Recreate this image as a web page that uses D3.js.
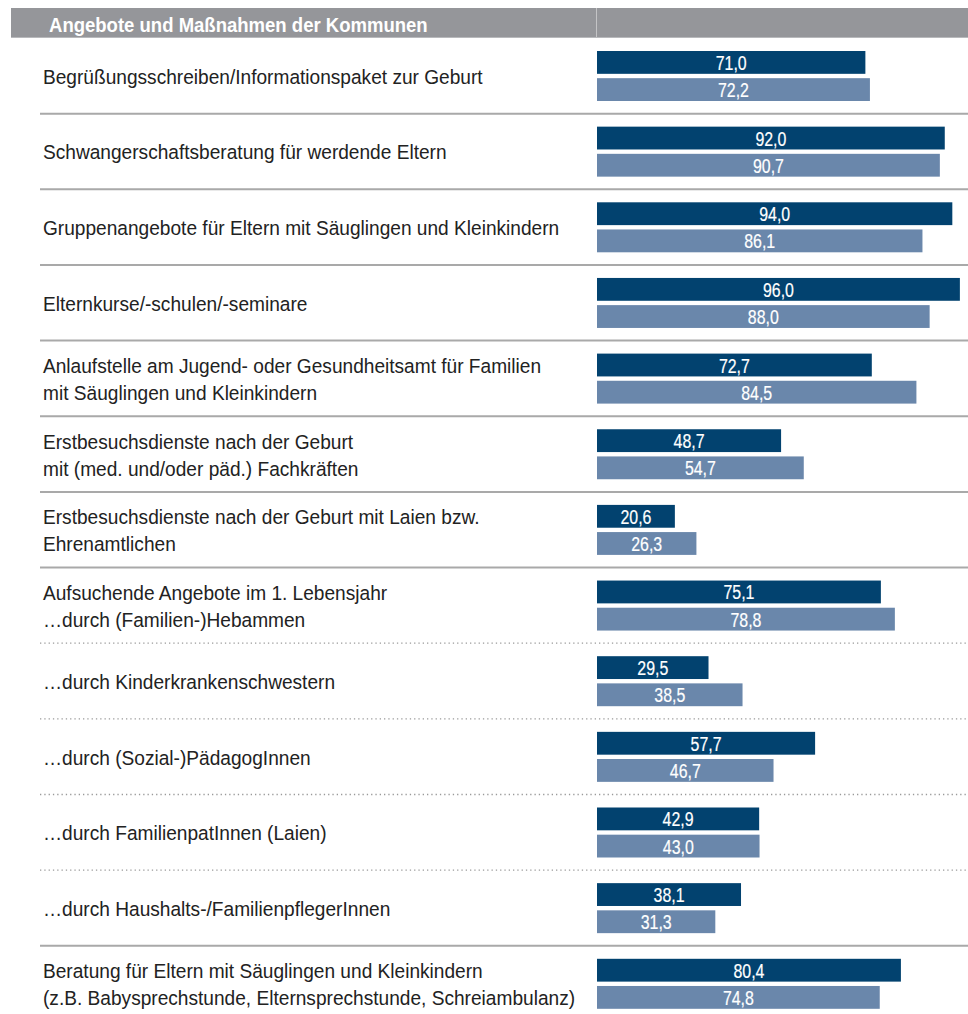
<!DOCTYPE html>
<html>
<head>
<meta charset="utf-8">
<script src="https://cdn.jsdelivr.net/npm/d3@7"></script>
<style>
  html, body { margin: 0; padding: 0; background: #fff; }
  #chart { width: 968px; height: 1014px; }
  text { font-family: "Liberation Sans", Arial, sans-serif; }
</style>
</head>
<body>
<div id="chart"></div>
<script>
// Angebote und Maßnahmen der Kommunen (Angaben in %)
const title = 'Angebote und Maßnahmen der Kommunen';

const categories = [
  'Begrüßungsschreiben/Informationspaket zur Geburt',
  'Schwangerschaftsberatung für werdende Eltern',
  'Gruppenangebote für Eltern mit Säuglingen und Kleinkindern',
  'Elternkurse/-schulen/-seminare',
  'Anlaufstelle am Jugend- oder Gesundheitsamt für Familien\nmit Säuglingen und Kleinkindern',
  'Erstbesuchsdienste nach der Geburt\nmit (med. und/oder päd.) Fachkräften',
  'Erstbesuchsdienste nach der Geburt mit Laien bzw.\nEhrenamtlichen',
  'Aufsuchende Angebote im 1. Lebensjahr\n…durch (Familien-)Hebammen',
  '…durch Kinderkrankenschwestern',
  '…durch (Sozial-)PädagogInnen',
  '…durch FamilienpatInnen (Laien)',
  '…durch Haushalts-/FamilienpflegerInnen',
  'Beratung für Eltern mit Säuglingen und Kleinkindern\n(z.B. Babysprechstunde, Elternsprechstunde, Schreiambulanz)'
];

const seriesKeys = ['Reihe 1', 'Reihe 2'];
const series1 = [71.0, 92.0, 94.0, 96.0, 72.7, 48.7, 20.6, 75.1, 29.5, 57.7, 42.9, 38.1, 80.4];
const series2 = [72.2, 90.7, 86.1, 88.0, 84.5, 54.7, 26.3, 78.8, 38.5, 46.7, 43.0, 31.3, 74.8];

const W = 968, H = 1014;
const colors = { 'Reihe 1': '#02426f', 'Reihe 2': '#6a87ab' };
const fmt = d3.formatLocale({ decimal: ',', thousands: '.', grouping: [3], currency: ['', '€'] }).format('.1f');

const rows = categories.map((c, i) => ({
  label: c,
  values: [ { key: seriesKeys[0], v: series1[i] }, { key: seriesKeys[1], v: series2[i] } ]
}));

const svg = d3.select('#chart').append('svg')
  .attr('width', W).attr('height', H).attr('viewBox', `0 0 ${W} ${H}`);

// the original uses a condensed face; squeeze a regular one to the same width
function squeeze(str, size, weight, target) {
  const t = svg.append('text').attr('font-size', size + 'px').attr('font-weight', weight).text(str);
  const w = t.node().getComputedTextLength();
  t.remove();
  return target / w;
}
const sxLabel = squeeze(categories[0], 19.5, 400, 440);
const sxHead = squeeze(title, 20, 700, 379);
const sxVal = squeeze('38,1', 20.5, 400, 31);

const headTop = 8, headBot = 38, barX0 = 597;

// scales
const y = d3.scaleBand().domain(d3.range(categories.length))
  .range([headBot, headBot + categories.length * 75.65]).paddingInner(0).paddingOuter(0);
const yIn = d3.scaleBand().domain(seriesKeys).range([13, 63]).paddingInner(0.16);
const x = d3.scaleLinear().domain([0, 100]).range([barX0, barX0 + 378]);

// header band
svg.append('rect').attr('x', 11).attr('y', headTop).attr('width', W - 11).attr('height', headBot - headTop)
  .attr('fill', '#95969a');
svg.append('line').attr('x1', barX0 - 0.5).attr('x2', barX0 - 0.5).attr('y1', headTop).attr('y2', headBot)
  .attr('stroke', '#c4c4c6').attr('stroke-width', 1);
svg.append('line').attr('x1', 11).attr('x2', W).attr('y1', headBot - 0.5).attr('y2', headBot - 0.5)
  .attr('stroke', '#b8b9bc').attr('stroke-width', 1);
svg.append('text').attr('transform', `translate(49,31.5) scale(${sxHead},1)`)
  .attr('fill', '#fff').attr('font-size', '20px').attr('font-weight', 700)
  .text(title);

// separators (dotted above sub-items that start with "…")
const seps = d3.range(1, categories.length);
const isSub = d => categories[d].startsWith('…');
svg.selectAll('.sep').data(seps).join('line')
  .attr('class', 'sep')
  .attr('x1', 40).attr('x2', W)
  .attr('y1', d => y(d)).attr('y2', d => y(d))
  .attr('stroke', d => isSub(d) ? '#9a9a9a' : '#a9a9a9')
  .attr('stroke-width', d => isSub(d) ? 1.3 : 2)
  .attr('stroke-dasharray', d => isSub(d) ? '1.3,3' : null);

const g = svg.selectAll('.row').data(rows).join('g')
  .attr('class', 'row')
  .attr('transform', (d, i) => `translate(0,${y(i)})`);

// labels
g.each(function (d) {
  const lines = d.label.split('\n');
  const cy = y.bandwidth() / 2 + 1;
  d3.select(this).selectAll('.lbl').data(lines).join('text')
    .attr('class', 'lbl')
    .attr('transform', (ln, k) => `translate(43,${cy + (k - (lines.length - 1) / 2) * 27 + 7}) scale(${sxLabel},1)`)
    .attr('fill', '#222').attr('font-size', '19.5px')
    .text(ln => ln);
});

// bars
g.selectAll('.bar').data(d => d.values).join('rect')
  .attr('class', 'bar')
  .attr('x', x(0)).attr('y', d => yIn(d.key))
  .attr('width', d => x(d.v) - x(0)).attr('height', yIn.bandwidth())
  .attr('fill', d => colors[d.key]);

// value labels
g.selectAll('.val').data(d => d.values).join('text')
  .attr('class', 'val')
  .attr('transform', d => `translate(${(x(0) + x(d.v)) / 2},${yIn(d.key) + yIn.bandwidth() / 2 + 7.5}) scale(${sxVal},1)`)
  .attr('text-anchor', 'middle').attr('fill', '#fff').attr('font-size', '20.5px')
  .attr('stroke', '#fff').attr('stroke-width', 0.2)
  .text(d => fmt(d.v));
</script>
</body>
</html>
